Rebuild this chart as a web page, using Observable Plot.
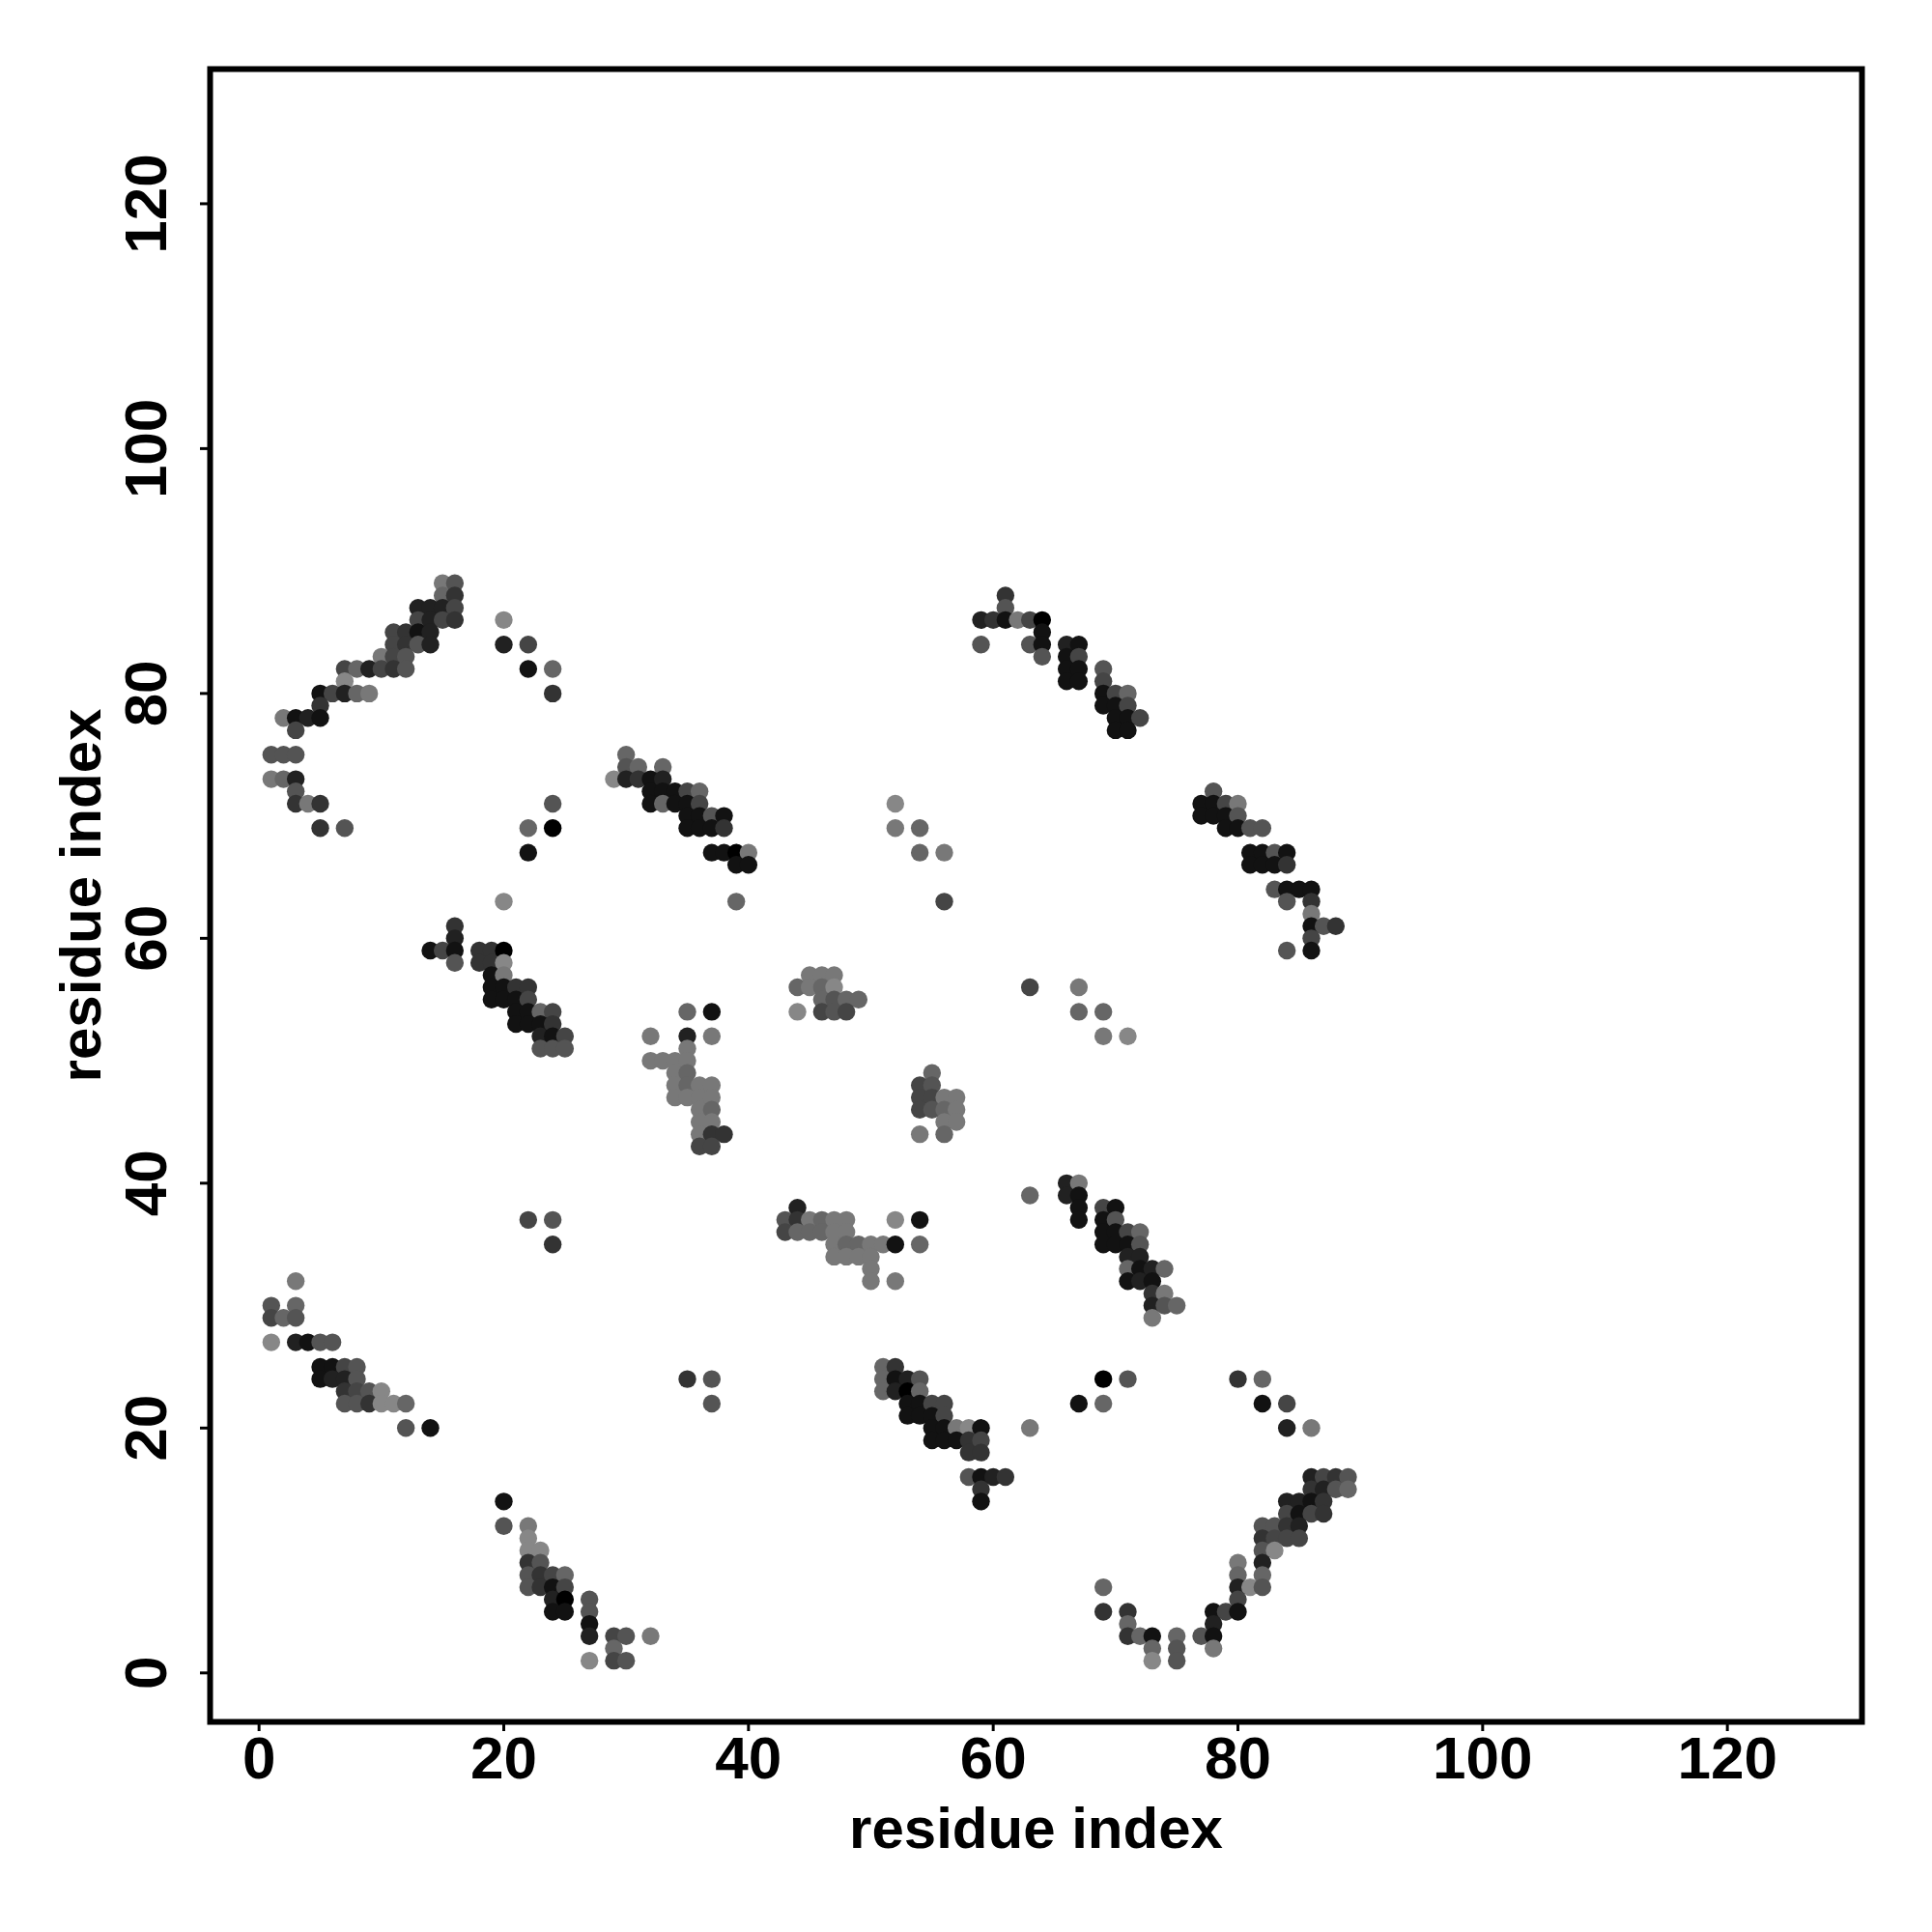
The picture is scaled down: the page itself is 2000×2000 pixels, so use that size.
<!DOCTYPE html>
<html><head><meta charset="utf-8">
<script src="https://cdn.jsdelivr.net/npm/d3@7"></script>
<script src="https://cdn.jsdelivr.net/npm/@observablehq/plot@0.6"></script>
<style>body{margin:0;background:#fff}</style>
</head><body><div id="chart"></div>
<script>
const xTicks = [0, 20, 40, 60, 80, 100, 120];
const yTicks = [0, 20, 40, 60, 80, 100, 120];
const xTitle = "residue index";
const yTitle = "residue index";

// [residue i, residue j, contact probability]
const clusterA = [[15,89,.53],[16,89,.67],[15,88,.6],[16,88,.8],[13,87,.87],[14,87,.87],[15,87,.87],[16,87,.73],[13,86,.73],[14,86,.87],[15,86,.73],[16,86,.8],[11,85,.73],[12,85,.8],[13,85,.93],[14,85,.87],[11,84,.73],[12,84,.8],[13,84,.67],[14,84,.87],[10,83,.53],[11,83,.73],[12,83,.67],[7,82,.73],[8,82,.6],[9,82,.87],[10,82,.73],[11,82,.8],[12,82,.67],[7,81,.47],[5,80,.93],[6,80,.73],[7,80,.87],[8,80,.6],[9,80,.53],[5,79,.8],[2,78,.53],[3,78,.93],[4,78,.87],[5,78,.93],[3,77,.73],[1,75,.67],[2,75,.67],[3,75,.67],[1,73,.53],[2,73,.6],[3,73,.87],[3,72,.67],[3,71,.8],[4,71,.53],[5,71,.8],[5,69,.8],[7,69,.67]];
const clusterB = [[20,86,.47],[20,84,.87],[22,84,.73],[22,82,.93],[24,82,.6],[24,80,.8],[24,71,.67],[22,69,.6],[24,69,1],[22,67,.93],[20,63,.47]];
const clusterC = [[16,61,.8],[16,60,.87],[14,59,.93],[15,59,.73],[16,59,.93],[18,59,.8],[19,59,.8],[20,59,1],[16,58,.67],[18,58,.8],[19,58,.8],[20,58,.47],[19,57,.93],[20,57,.53],[19,56,.93],[20,56,.93],[21,56,.8],[22,56,.8],[19,55,.93],[20,55,.93],[21,55,.93],[22,55,.73],[21,54,.93],[22,54,.93],[23,54,.6],[24,54,.73],[21,53,.93],[22,53,.93],[23,53,.93],[24,53,.8],[23,52,.87],[24,52,.93],[25,52,.73],[23,51,.67],[24,51,.67],[25,51,.67]];
const clusterD = [[22,37,.73],[24,37,.67],[24,35,.8]];
const clusterE = [[3,32,.53],[1,30,.67],[3,30,.6],[1,29,.73],[2,29,.6],[3,29,.67],[1,27,.47],[3,27,.87],[4,27,.93],[5,27,.67],[6,27,.67],[5,25,.93],[6,25,.93],[7,25,.73],[8,25,.67],[5,24,.93],[6,24,.87],[7,24,.87],[8,24,.67],[7,23,.8],[8,23,.73],[9,23,.67],[10,23,.47],[7,22,.67],[8,22,.67],[9,22,.8],[10,22,.47],[11,22,.47],[12,22,.6],[12,20,.67],[14,20,.93]];
const clusterF = [[20,14,.93],[20,12,.67],[22,12,.53],[22,11,.47],[22,10,.47],[23,10,.47],[22,9,.8],[23,9,.67],[22,8,.67],[23,8,.8],[24,8,.73],[25,8,.6],[22,7,.67],[23,7,.8],[24,7,.93],[25,7,.73],[24,6,.87],[25,6,1],[27,6,.67],[24,5,.93],[25,5,.93],[27,5,.67],[27,4,.93],[27,3,.87],[29,3,.73],[30,3,.67],[32,3,.53],[29,2,.6],[27,1,.47],[29,1,.73],[30,1,.67]];
const clusterG = [[30,75,.6],[30,74,.67],[31,74,.6],[33,74,.6],[29,73,.47],[30,73,.87],[31,73,.8],[32,73,.93],[33,73,.87],[32,72,.93],[33,72,.93],[34,72,.93],[35,72,.73],[36,72,.6],[32,71,.93],[33,71,.6],[34,71,.93],[35,71,.93],[36,71,.73],[35,70,.93],[36,70,.93],[37,70,.67],[38,70,.93],[35,69,.93],[36,69,.93],[37,69,.93],[38,69,.8],[37,67,.93],[38,67,.93],[39,67,1],[40,67,.53],[39,66,.93],[40,66,.93],[39,63,.6]];
const clusterH = [[52,71,.47],[52,69,.53],[54,69,.6],[54,67,.6],[56,67,.53],[56,63,.73]];
const clusterI = [[61,88,.8],[61,87,.67],[59,86,.87],[60,86,.8],[61,86,.93],[62,86,.53],[63,86,.73],[64,86,1],[64,85,.93],[59,84,.67],[63,84,.67],[64,84,.93],[66,84,.87],[67,84,.93],[64,83,.67],[66,83,.93],[67,83,.73],[66,82,.93],[67,82,.93],[69,82,.67],[66,81,.93],[67,81,.93],[69,81,.73],[69,80,.93],[70,80,.73],[71,80,.6],[69,79,.93],[70,79,.93],[71,79,.73],[70,78,.93],[71,78,.93],[72,78,.73],[70,77,.93],[71,77,.93]];
const clusterJ = [[78,72,.67],[77,71,.93],[78,71,.93],[79,71,.73],[80,71,.53],[77,70,.93],[78,70,.93],[79,70,.93],[80,70,.67],[79,69,.93],[80,69,.93],[81,69,.67],[82,69,.67],[81,67,.93],[82,67,.93],[83,67,.67],[84,67,.93],[81,66,.93],[82,66,.93],[83,66,.93],[84,66,.8],[83,64,.67],[84,64,.93],[85,64,.93],[86,64,.93],[84,63,.67],[86,63,.8],[86,62,.53],[86,61,.93],[87,61,.67],[88,61,.8],[86,60,.73],[84,59,.67],[86,59,.93]];
const clusterK = [[63,56,.73],[67,56,.53],[67,54,.6],[69,54,.6],[69,52,.53],[71,52,.47]];
const clusterL = [[35,54,.6],[37,54,.93],[32,52,.53],[35,52,.87],[37,52,.53],[35,51,.53],[32,50,.53],[33,50,.53],[34,50,.53],[35,50,.53],[34,49,.53],[35,49,.6],[34,48,.53],[35,48,.6],[36,48,.53],[37,48,.53],[34,47,.53],[35,47,.53],[36,47,.53],[37,47,.53],[36,46,.53],[37,46,.6],[36,45,.53],[37,45,.53],[36,44,.53],[37,44,.8],[38,44,.8],[36,43,.73],[37,43,.73]];
const clusterM = [[45,57,.53],[46,57,.53],[47,57,.53],[44,56,.6],[45,56,.53],[46,56,.6],[47,56,.47],[46,55,.6],[47,55,.67],[48,55,.6],[49,55,.6],[44,54,.47],[46,54,.73],[47,54,.67],[48,54,.73]];
const clusterN = [[55,49,.6],[54,48,.73],[55,48,.67],[54,47,.73],[55,47,.73],[56,47,.53],[57,47,.53],[54,46,.73],[55,46,.67],[56,46,.6],[57,46,.53],[56,45,.53],[57,45,.53],[54,44,.53],[56,44,.6]];
const clusterO = [[44,38,.87],[43,37,.67],[44,37,.8],[45,37,.53],[46,37,.6],[47,37,.53],[48,37,.53],[52,37,.47],[54,37,.93],[43,36,.73],[44,36,.6],[45,36,.6],[46,36,.6],[47,36,.53],[48,36,.53],[47,35,.53],[48,35,.6],[49,35,.6],[50,35,.53],[51,35,.53],[52,35,.93],[54,35,.6],[47,34,.53],[48,34,.53],[49,34,.53],[50,34,.53],[50,33,.53],[50,32,.53],[52,32,.53]];
const clusterP = [[35,24,.8],[37,24,.67],[37,22,.67]];
const clusterQ = [[51,25,.6],[52,25,.8],[51,24,.6],[52,24,.93],[53,24,.87],[54,24,.67],[51,23,.6],[52,23,.87],[53,23,1],[54,23,.6],[53,22,.93],[54,22,.93],[55,22,.73],[56,22,.73],[53,21,.93],[54,21,.93],[55,21,.93],[56,21,.73],[55,20,.93],[56,20,.93],[57,20,.53],[58,20,.47],[59,20,.93],[55,19,.93],[56,19,.93],[57,19,.93],[58,19,.8],[59,19,.73],[58,18,.8],[59,18,.8],[58,16,.67],[59,16,.93],[60,16,.87],[61,16,.8],[59,15,.8],[59,14,.93]];
const clusterR = [[66,40,.87],[67,40,.53],[66,39,.87],[67,39,.93],[67,38,.93],[69,38,.73],[70,38,.93],[67,37,.93],[69,37,.93],[70,37,.67],[69,36,.93],[70,36,.93],[71,36,.73],[72,36,.6],[69,35,.93],[70,35,.93],[71,35,.93],[72,35,.67],[71,34,.87],[72,34,.87],[71,33,.6],[72,33,.93],[73,33,.87],[74,33,.6],[71,32,.93],[72,32,.87],[73,32,.93],[73,31,.8],[74,31,.53],[73,30,.87],[74,30,.67],[75,30,.6],[73,29,.53]];
const clusterS = [[63,39,.6],[63,20,.53],[67,22,.93],[69,22,.6],[69,24,1],[71,24,.67],[80,24,.8],[82,24,.6],[82,22,.93],[84,22,.73],[84,20,.87],[86,20,.53]];
const clusterT = [[86,16,.87],[87,16,.73],[88,16,.8],[89,16,.67],[86,15,.8],[87,15,.87],[88,15,.67],[89,15,.6],[84,14,.87],[85,14,.87],[86,14,.93],[87,14,.8],[84,13,.73],[85,13,.93],[86,13,.73],[87,13,.8],[82,12,.67],[83,12,.67],[84,12,.8],[85,12,.87],[82,11,.8],[83,11,.73],[84,11,.73],[85,11,.73],[82,10,.67],[83,10,.47],[80,9,.53],[82,9,.87],[80,8,.6],[82,8,.6],[80,7,.87],[81,7,.47],[82,7,.67],[80,6,.73],[78,5,.93],[79,5,.73],[80,5,.93],[78,4,.87],[77,3,.67],[78,3,.93],[78,2,.53]];
const clusterU = [[69,7,.6],[69,5,.8],[71,5,.8],[71,4,.6],[71,3,.8],[72,3,.6],[73,3,.93],[75,3,.6],[73,2,.6],[75,2,.67],[73,1,.47],[75,1,.67]];

const contacts = [clusterA, clusterB, clusterC, clusterD, clusterE, clusterF, clusterG, clusterH, clusterI, clusterJ,
  clusterK, clusterL, clusterM, clusterN, clusterO, clusterP, clusterQ, clusterR, clusterS, clusterT, clusterU]
  .flat().map(([i, j, p]) => ({i, j, p}));

const font = "'Liberation Sans', Arial, Helvetica, sans-serif";
const chart = Plot.plot({
  width: 2000, height: 2000,
  marginLeft: 217, marginRight: 73, marginTop: 71, marginBottom: 218,
  x: {domain: [-4, 131], label: null},
  y: {domain: [-4, 131], label: null},
  color: {type: "linear", domain: [0, 1], range: ["#ffffff", "#000000"]},
  style: {fontFamily: font, background: "#ffffff", color: "#000"},
  marks: [
    Plot.dot(contacts, {x: "i", y: "j", fill: "p", r: 9.2}),
    Plot.frame({stroke: "#000", strokeWidth: 6}),
    Plot.axisX(xTicks, {tickSize: 10, tickFormat: () => "", strokeWidth: 3, label: null}),
    Plot.axisY(yTicks, {tickSize: 10, tickFormat: () => "", strokeWidth: 3, label: null}),
    Plot.text(xTicks, {x: d => d, text: d => String(d), frameAnchor: "bottom", lineAnchor: "bottom", dy: 58, fontSize: 62, fontWeight: "bold", fill: "#000"}),
    Plot.text(yTicks, {y: d => d, text: d => String(d), frameAnchor: "left", rotate: -90, lineAnchor: "bottom", textAnchor: "middle", dx: -46, fontSize: 62, fontWeight: "bold", fill: "#000"}),
    Plot.text([xTitle], {frameAnchor: "bottom", lineAnchor: "bottom", dy: 130, fontSize: 60, fontWeight: "bold", fill: "#000"}),
    Plot.text([yTitle], {frameAnchor: "left", rotate: -90, lineAnchor: "bottom", textAnchor: "middle", dx: -114, fontSize: 60, fontWeight: "bold", fill: "#000"})
  ]
});
document.getElementById("chart").appendChild(chart);
</script>
</body></html>
